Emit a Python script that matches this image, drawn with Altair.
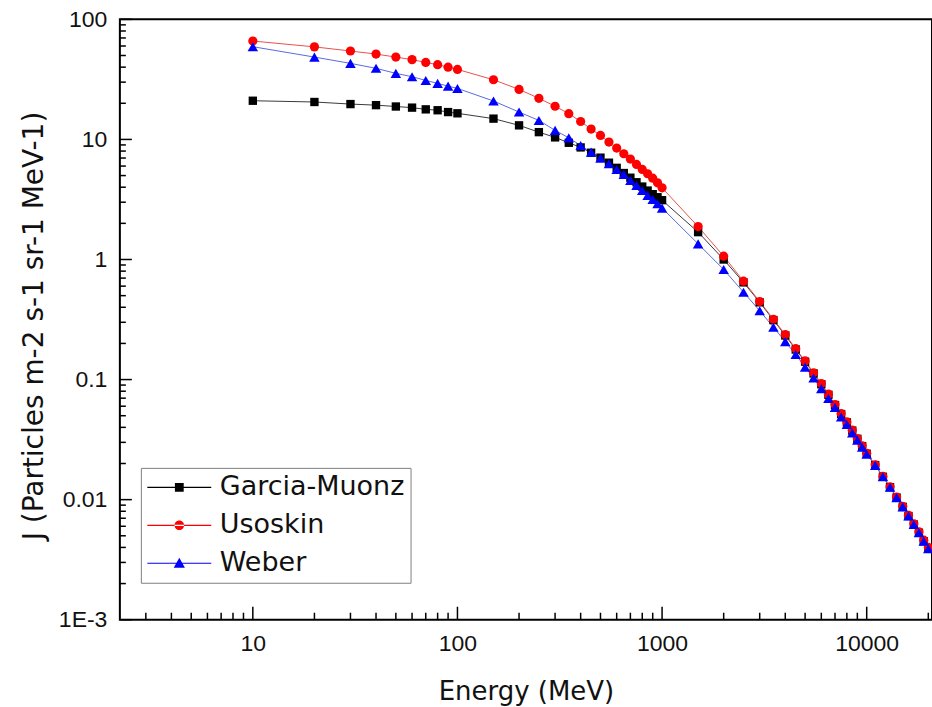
import altair as alt
import pandas as pd

# Kinetic energy grid (MeV)
energy = [10, 20, 30, 40, 50, 60, 70, 80, 90, 100,
          150, 200, 250, 300, 350, 400, 450, 500, 550, 600, 650, 700, 750, 800, 850, 900, 950, 1000,
          1500, 2000, 2500, 3000, 3500, 4000, 4500, 5000, 5500, 6000, 6500, 7000, 7500, 8000, 8500,
          9000, 9500, 10000,
          11000, 12000, 13000, 14000, 15000, 16000, 17000, 18000, 19000, 20000]

# Differential flux J (particles m-2 s-1 sr-1 MeV-1)
garcia = [21.0, 20.5, 19.7, 19.3, 18.8, 18.4, 17.8, 17.5, 16.9, 16.5,
          14.9, 13.1, 11.5, 10.4, 9.38, 8.58, 7.75, 7.05, 6.4, 5.8, 5.25, 4.8, 4.4, 4.05, 3.75, 3.5, 3.3, 3.12,
          1.69, 1.0, 0.645, 0.44, 0.313, 0.233, 0.178, 0.141, 0.1125, 0.0915, 0.0747, 0.0614, 0.0516, 0.044,
          0.0376, 0.0321, 0.0279, 0.0241,
          0.0194, 0.0155, 0.0127, 0.0104, 0.0087, 0.0073, 0.0062, 0.0053, 0.0045, 0.0039]

usoskin = [66.0, 59.0, 54.5, 51.4, 48.5, 46.2, 43.8, 41.9, 40.0, 38.3,
           31.4, 26.1, 22.0, 18.9, 16.4, 14.1, 12.2, 10.8, 9.5, 8.47, 7.6, 6.86, 6.19, 5.62, 5.18, 4.76, 4.35, 3.95,
           1.88, 1.065, 0.66, 0.447, 0.318, 0.237, 0.181, 0.143, 0.114, 0.0927, 0.0755, 0.062, 0.0521, 0.0444,
           0.0379, 0.0323, 0.0281, 0.0243,
           0.0195, 0.0156, 0.0128, 0.0105, 0.0088, 0.0074, 0.0063, 0.0054, 0.0046, 0.0040]

weber = [59.2, 48.5, 43.0, 39.1, 35.5, 33.3, 31.0, 29.3, 27.8, 26.6,
         20.9, 16.9, 14.4, 11.9, 10.3, 8.9, 7.84, 6.98, 6.27, 5.62, 5.1, 4.55, 4.14, 3.76, 3.41, 3.16, 2.91, 2.68,
         1.35, 0.826, 0.534, 0.374, 0.273, 0.207, 0.1615, 0.127, 0.103, 0.0841, 0.0695, 0.0585, 0.0488, 0.0422,
         0.0359, 0.0313, 0.0273, 0.0239,
         0.0193, 0.0155, 0.0127, 0.0104, 0.0087, 0.0073, 0.0062, 0.0053, 0.0045, 0.0039]

series_names = ["Garcia-Muonz", "Usoskin", "Weber"]
marker_colors = ["#000000", "#ff0000", "#0000ff"]
line_colors = ["#3a3a3a", "#e85050", "#5a6ae0"]
marker_shapes = ["square", "circle", "triangle-up"]
marker_sizes = [70, 85, 110]

# Legend glyphs: a short line segment with the series marker in the middle
legend_glyphs = [
    "M-4,-0.07 H4 V0.07 H-4 Z M-0.55,-0.55 H0.55 V0.55 H-0.55 Z",
    "M-4,-0.07 H4 V0.07 H-4 Z M-0.6,0 A0.6,0.6 0 1,0 0.6,0 A0.6,0.6 0 1,0 -0.6,0 Z",
    "M-4,-0.07 H4 V0.07 H-4 Z M0,-0.68 L0.7,0.55 L-0.7,0.55 Z",
]

x_major = [10, 100, 1000, 10000]
x_minor = [m * d for d in (1, 10, 100, 1000) for m in range(2, 10)] + [20000]
x_minor = [v for v in x_minor if v >= 3]
y_major = [0.001, 0.01, 0.1, 1, 10, 100]
y_minor = [m * d for d in (0.001, 0.01, 0.1, 1, 10) for m in range(2, 10)]

rows = []
for name, vals, shp, pc, lc, sz in zip(series_names, [garcia, usoskin, weber], marker_shapes,
                                       marker_colors, line_colors, marker_sizes):
    for e, j in zip(energy, vals):
        rows.append({"series": name, "E": e, "J": j, "shp": shp, "pc": pc, "lc": lc, "sz": sz})
df = pd.DataFrame(rows)

W, H = 813, 601
x_scale = alt.Scale(type="log", domain=[2.24, 20850], nice=False)
y_scale = alt.Scale(type="log", domain=[0.001, 100], nice=False)

x_axis = alt.Axis(values=x_major, format="d", title="Energy (MeV)", grid=False, ticks=False,
                  domain=False, labelPadding=13, labelFont="Liberation Sans", labelFontSize=23,
                  labelColor="#111111", labelFlush=False, titleFont="DejaVu Sans", titleFontSize=26,
                  titleFontWeight="normal", titleColor="#111111", titleBaseline="alphabetic", titleY=80)
y_axis = alt.Axis(values=y_major, labelExpr="datum.value < 0.005 ? '1E-3' : format(datum.value, '~g')",
                  title="J (Particles m-2 s-1 sr-1 MeV-1)", grid=False, ticks=False, domain=False,
                  labelPadding=13, labelFont="Liberation Sans", labelFontSize=23, labelColor="#111111",
                  labelFlush=False, titleFont="DejaVu Sans", titleFontSize=28, titleFontWeight="normal",
                  titleColor="#111111", titleAngle=270, titleAlign="center", titleBaseline="alphabetic",
                  titleX=-77, titleY=H / 2 + 6)


def xenc():
    return alt.X("E:Q", scale=x_scale, axis=x_axis)


def yenc():
    return alt.Y("J:Q", scale=y_scale, axis=y_axis)


lines = alt.Chart(df).mark_line(strokeWidth=1).encode(
    x=xenc(), y=yenc(), detail="series:N", color=alt.Color("lc:N", scale=None)
)
points = alt.Chart(df).mark_point(filled=True, opacity=1).encode(
    x=xenc(), y=yenc(),
    shape=alt.Shape("shp:N", scale=None),
    color=alt.Color("pc:N", scale=None),
    size=alt.Size("sz:Q", scale=None),
)

legend = alt.Legend(orient="none", legendX=21, legendY=449, title=None, padding=6,
                    strokeColor="#808080", fillColor="white", labelFont="DejaVu Sans",
                    labelFontSize=27, labelColor="#111111", symbolSize=256, symbolOffset=19,
                    labelOffset=27, rowPadding=10, symbolStrokeWidth=0, labelLimit=400)
legend_layer = alt.Chart(df).transform_filter("false").mark_point(filled=True, opacity=1).encode(
    x=xenc(), y=yenc(),
    color=alt.Color("series:N", scale=alt.Scale(domain=series_names, range=marker_colors), legend=legend),
    shape=alt.Shape("series:N", scale=alt.Scale(domain=series_names, range=legend_glyphs), legend=legend),
)

# Inward-pointing axis ticks
xt_major = alt.Chart(pd.DataFrame({"E": x_major})).mark_rule(color="black", strokeWidth=1.5).encode(
    x=xenc(), y=alt.value(H), y2=alt.value(H - 13))
xt_minor = alt.Chart(pd.DataFrame({"E": x_minor})).mark_rule(color="black", strokeWidth=1.5).encode(
    x=xenc(), y=alt.value(H), y2=alt.value(H - 7))
yt_major = alt.Chart(pd.DataFrame({"J": y_major})).mark_rule(color="black", strokeWidth=1.5).encode(
    y=yenc(), x=alt.value(0), x2=alt.value(12))
yt_minor = alt.Chart(pd.DataFrame({"J": y_minor})).mark_rule(color="black", strokeWidth=1.5).encode(
    y=yenc(), x=alt.value(0), x2=alt.value(6))

chart = alt.layer(lines, points, xt_major, xt_minor, yt_major, yt_minor, legend_layer).properties(
    width=W, height=H,
    autosize=alt.AutoSizeParams(type="none"),
    padding={"left": 120, "top": 19, "right": 0, "bottom": 87},
    background="white",
).configure_view(stroke="black", strokeWidth=2)

chart.save("out.html", embed_options={"renderer": "svg", "actions": False})
